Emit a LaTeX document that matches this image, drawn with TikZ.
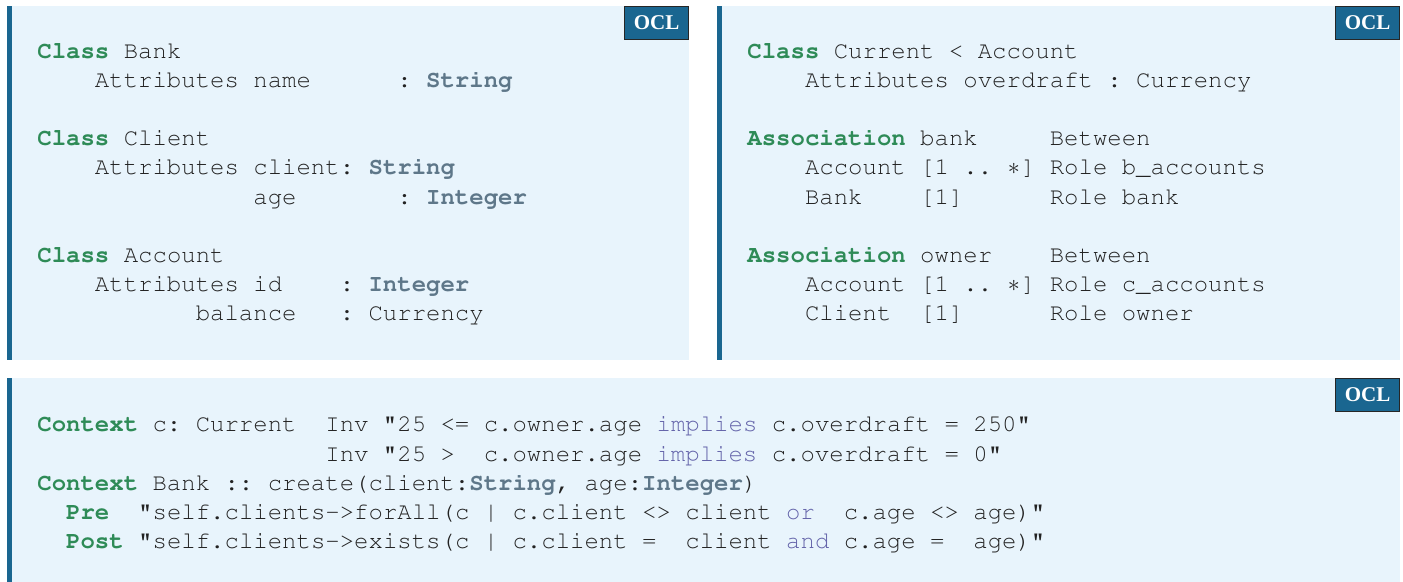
\documentclass[tikz,border=0pt]{standalone}
\usepackage{fontspec}
\newfontfamily\oclserif{Liberation Serif}
\newcommand{\courier}{\fontencoding{T1}\fontfamily{pcr}\selectfont\frenchspacing}
\usetikzlibrary{positioning}
\definecolor{paper}{HTML}{E8F4FC}
\definecolor{barblue}{HTML}{1A6690}
\definecolor{kwgreen}{HTML}{2E8B57}
\definecolor{typegray}{HTML}{5E7789}
\definecolor{oppurple}{HTML}{6464AA}
\definecolor{ink}{HTML}{222222}
\newcommand{\kwd}[1]{\textcolor{kwgreen}{\bfseries #1}}
\newcommand{\tyname}[1]{\textcolor{typegray}{\bfseries #1}}
\newcommand{\opword}[1]{\textcolor{oppurple}{#1}}
\newcommand{\mult}{\makebox[0.6em]{$\ast$}}
\tikzset{panel/.style={fill=paper},
leftbar/.style={fill=barblue},
ocltag/.style={draw=black!85,fill=barblue,text=white,line width=0.5pt,
  font=\oclserif\bfseries\fontsize{10.5}{12}\selectfont,
  minimum width=32pt,minimum height=16.5pt,inner sep=0pt},
code/.style={font=\courier\fontsize{12}{14.6}\selectfont,text=ink,
  align=left,inner sep=0pt,anchor=base west}}
\begin{document}
\begin{tikzpicture}[x=0.5pt,y=-0.5pt]
\useasboundingbox (0,0) rectangle (1403,582);
\foreach \x/\y/\X/\Y/\n in {7/6/689/360/one,717/6/1400/360/two,7/378/1400/582/three}{
  \fill[panel] (\x,\y) rectangle (\X,\Y);
  \fill[leftbar] (\x,\y) rectangle (\x+4.5,\Y);
  \node[ocltag,anchor=north east] (tag\n) at (\X,\y) {OCL};
}
% classes (anchored on the last line)
\node[code] (classes) at (37,321) {%
\kwd{Class} Bank\\
~~~~Attributes name~~~~~~: \tyname{String}\\
~\\
\kwd{Class} Client\\
~~~~Attributes client: \tyname{String}\\
~~~~~~~~~~~~~~~age~~~~~~~: \tyname{Integer}\\
~\\
\kwd{Class} Account\\
~~~~Attributes id~~~~: \tyname{Integer}\\
~~~~~~~~~~~balance~~~: Currency};
% associations
\node[code] (assocs) at (747,321) {%
\kwd{Class} Current < Account\\
~~~~Attributes overdraft : Currency\\
~\\
\kwd{Association} bank~~~~~Between\\
~~~~Account [1 .. \mult] Role b\_accounts\\
~~~~Bank~~~~[1]~~~~~~Role bank\\
~\\
\kwd{Association} owner~~~~Between\\
~~~~Account [1 .. \mult] Role c\_accounts\\
~~~~Client~~[1]~~~~~~Role owner};
% constraints
\node[code] (constraints) at (37,548.8) {%
\kwd{Context} c: Current~~Inv "25 <= c.owner.age \opword{implies} c.overdraft = 250"\\
~~~~~~~~~~~~~~~~~~~~Inv "25 >~~c.owner.age \opword{implies} c.overdraft = 0"\\
\kwd{Context} Bank :: create(client:\tyname{String}, age:\tyname{Integer})\\
~~\kwd{Pre}~~"self.clients->forAll(c | c.client <> client \opword{or}~~c.age <> age)"\\
~~\kwd{Post} "self.clients->exists(c | c.client =~~client \opword{and} c.age =~~age)"};
\end{tikzpicture}
\end{document}
